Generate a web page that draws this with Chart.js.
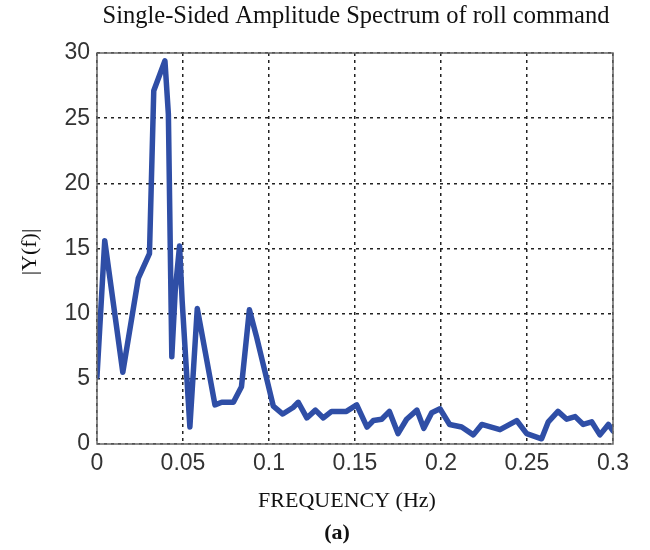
<!DOCTYPE html>
<html>
<head>
<meta charset="utf-8">
<script src="https://cdn.jsdelivr.net/npm/chart.js@4"></script>
<style>
  html, body { margin: 0; padding: 0; background: #fff; }
  #wrap { width: 650px; height: 550px; }
</style>
</head>
<body>
<div id="wrap"><canvas id="spectrumChart" width="650" height="550"></canvas></div>
<script>
// Single-sided amplitude spectrum
var freq = [0.000, 0.0045, 0.015, 0.024, 0.0305, 0.033, 0.0395, 0.0415, 0.0435, 0.0455,
            0.048, 0.0495, 0.054, 0.0583, 0.0686, 0.0725, 0.0793, 0.084, 0.0886, 0.0928,
            0.1025, 0.108, 0.114, 0.117, 0.122, 0.127, 0.1316, 0.1364, 0.145, 0.151,
            0.157, 0.1607, 0.1655, 0.170, 0.175, 0.180, 0.186, 0.190, 0.1946, 0.1994,
            0.205, 0.212, 0.2188, 0.2237, 0.2343, 0.244, 0.2498, 0.2585, 0.2624, 0.268,
            0.2731, 0.278, 0.2827, 0.2876, 0.2924, 0.2973, 0.300];
var amp  = [5.2, 15.6, 5.5, 12.7, 14.6, 27.1, 29.4, 25.3, 6.7, 11.8,
            15.2, 11.0, 1.3, 10.4, 3.0, 3.2, 3.2, 4.4, 10.3, 8.2,
            2.9, 2.3, 2.8, 3.2, 2.0, 2.6, 2.0, 2.5, 2.5, 3.0,
            1.3, 1.8, 1.9, 2.5, 0.8, 1.9, 2.6, 1.2, 2.4, 2.7,
            1.5, 1.3, 0.7, 1.5, 1.1, 1.8, 0.8, 0.4, 1.7, 2.5,
            1.9, 2.1, 1.5, 1.7, 0.7, 1.5, 1.0];

var xTicks = [0, 0.05, 0.1, 0.15, 0.2, 0.25, 0.3];
var xTickLabels = ['0', '0.05', '0.1', '0.15', '0.2', '0.25', '0.3'];
var yTicks = [0, 5, 10, 15, 20, 25, 30];
var yTickLabels = ['0', '5', '10', '15', '20', '25', '30'];

var points = freq.map(function (f, i) { return { x: f, y: amp[i] }; });

// title, axis labels and frame drawn on the canvas
var textAndFrame = {
    id: 'textAndFrame',
    afterDraw: function (chart) {
        var ctx = chart.ctx, a = chart.chartArea;
        ctx.save();
        ctx.strokeStyle = '#666';
        ctx.lineWidth = 1.5;
        ctx.strokeRect(a.left, a.top, a.right - a.left, a.bottom - a.top);

        ctx.fillStyle = '#111';
        ctx.textAlign = 'center';
        ctx.textBaseline = 'middle';
        ctx.font = '24.5px "Liberation Serif", "Times New Roman", serif';
        ctx.fillText('Single-Sided Amplitude Spectrum of roll command', 356, 17);

        ctx.font = '22px "Liberation Serif", "Times New Roman", serif';
        ctx.fillText('FREQUENCY (Hz)', 347, 501);

        ctx.font = 'bold 22px "Liberation Serif", "Times New Roman", serif';
        ctx.fillText('(a)', 337, 533);

        ctx.translate(30, 252);
        ctx.rotate(-Math.PI / 2);
        ctx.font = '22px "Liberation Serif", "Times New Roman", serif';
        ctx.fillText('|Y(f)|', 0, 0);
        ctx.restore();
    }
};

var ctx = document.getElementById('spectrumChart').getContext('2d');
var spectrumChart = new Chart(ctx, {
    type: 'line',
    data: {
        datasets: [{
            data: points,
            borderColor: '#2f4ea6',
            borderWidth: 5.5,
            borderJoinStyle: 'round',
            borderCapStyle: 'round',
            pointRadius: 0,
            tension: 0,
            fill: false
        }]
    },
    options: {
        responsive: false,
        animation: false,
        layout: { padding: { top: 53, right: 37, left: 0, bottom: 0 } },
        plugins: {
            legend: { display: false },
            tooltip: { enabled: false }
        },
        scales: {
            x: {
                type: 'linear',
                min: 0,
                max: 0.3,
                afterBuildTicks: function (axis) {
                    axis.ticks = xTicks.map(function (v) { return { value: v }; });
                },
                afterFit: function (axis) { axis.height = 106; },
                ticks: {
                    padding: 6,
                    color: '#333',
                    font: { family: '"Liberation Sans", Arial, sans-serif', size: 23 },
                    maxRotation: 0,
                    callback: function (v) { return xTickLabels[xTicks.indexOf(+v.toFixed(2))]; }
                },
                grid: { color: '#222', lineWidth: 1.5, drawTicks: false },
                border: { display: false, dash: [3, 4] }
            },
            y: {
                min: 0,
                max: 30,
                afterBuildTicks: function (axis) {
                    axis.ticks = yTicks.map(function (v) { return { value: v }; });
                },
                afterFit: function (axis) { axis.width = 97; },
                ticks: {
                    padding: 7,
                    color: '#333',
                    font: { family: '"Liberation Sans", Arial, sans-serif', size: 23 },
                    callback: function (v) { return yTickLabels[yTicks.indexOf(v)]; }
                },
                grid: { color: '#222', lineWidth: 1.5, drawTicks: false },
                border: { display: false, dash: [3, 4] }
            }
        }
    },
    plugins: [textAndFrame]
});
</script>
</body>
</html>
